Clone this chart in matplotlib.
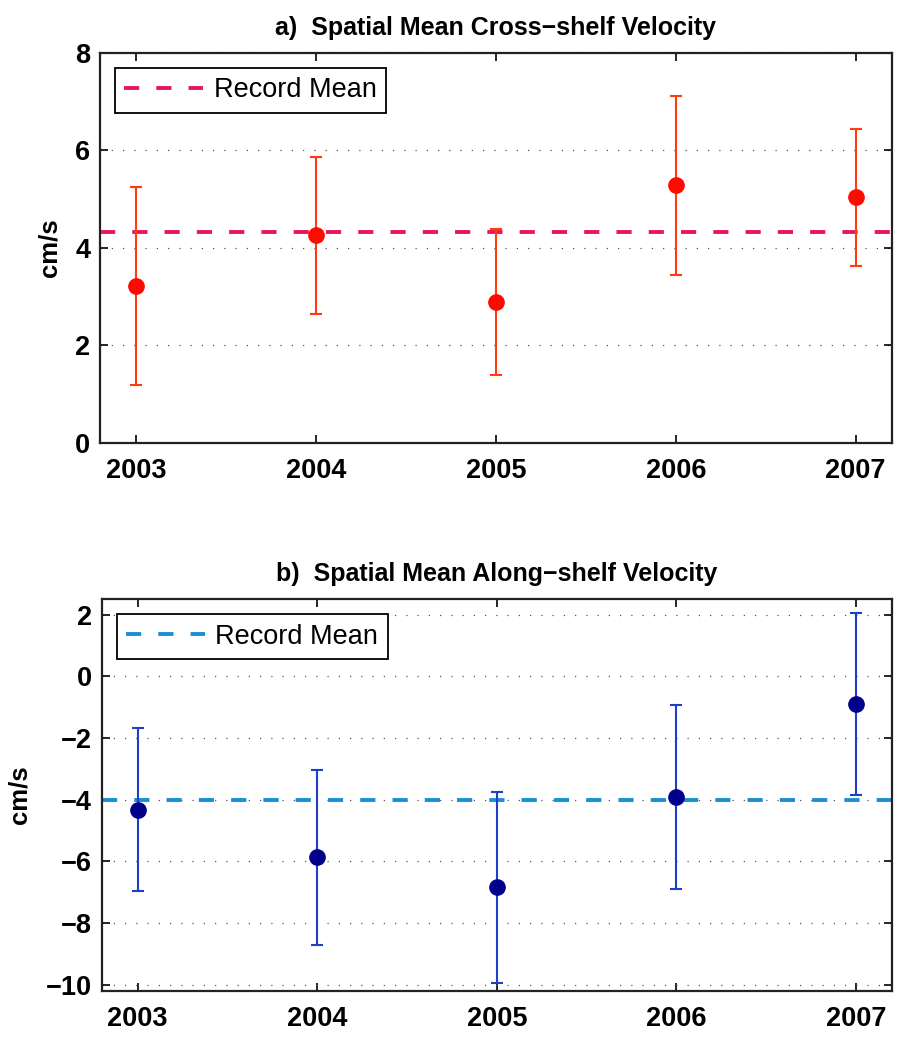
import matplotlib
matplotlib.use("Agg")
import matplotlib.pyplot as plt

plt.rcParams['font.family'] = ['Liberation Sans', 'DejaVu Sans']

years = [2003, 2004, 2005, 2006, 2007]

# a) cross-shelf
cross_mean = [3.21, 4.25, 2.89, 5.28, 5.03]
cross_err = [2.03, 1.60, 1.50, 1.84, 1.41]
cross_record = 4.32

# b) along-shelf
along_mean = [-4.32, -5.86, -6.84, -3.91, -0.88]
along_err = [2.65, 2.84, 3.10, 2.97, 2.95]
along_record = -4.0

fig = plt.figure(figsize=(8.97, 10.37), dpi=100)
ax1 = fig.add_axes([0.1115, 0.5731, 0.8826, 0.3761])
ax2 = fig.add_axes([0.1134, 0.0444, 0.8810, 0.3777])


def style_axes(ax, yticks, ylim, title):
    ax.set_xlim(2002.8, 2007.2)
    ax.set_ylim(*ylim)
    ax.set_xticks(years)
    ax.set_yticks(yticks)
    ax.set_yticklabels([str(t).replace('-', '\u2212') for t in yticks])
    ax.tick_params(direction='in', top=True, right=True, length=6, width=1.2,
                   labelsize=19.5)
    ax.tick_params(axis='x', pad=11)
    ax.tick_params(axis='y', pad=7)
    for lab in ax.get_xticklabels() + ax.get_yticklabels():
        lab.set_fontweight('bold')
    for s in ax.spines.values():
        s.set_linewidth(1.6)
        s.set_color('#222222')
    ax.yaxis.grid(True, linestyle=(0, (1, 8)), color='#555555', linewidth=0.9)
    ax.set_axisbelow(True)
    ax.set_ylabel('cm/s', fontsize=18.5, fontweight='bold', labelpad=10)
    ax.set_title(title, fontsize=18, fontweight='bold', pad=13)


def add_legend(ax):
    leg = ax.legend(loc='upper left', fontsize=19.5, fancybox=False,
                    framealpha=1, edgecolor='black', handlelength=2.9,
                    handletextpad=0.4, borderaxespad=0.55, borderpad=0.35)
    leg.get_frame().set_linewidth(1.3)


# top panel
ax1.plot([2002.8, 2007.2], [cross_record] * 2, color='#e8175d',
         linestyle=(0, (3.9, 4.4)), linewidth=2.8, label='Record Mean')
ax1.errorbar(years, cross_mean, yerr=cross_err, fmt='none', ecolor='#ff3b0f',
             elinewidth=1.5, capsize=4.5, capthick=1.5)
ax1.plot(years, cross_mean, 'o', color='#ff0a00', markersize=11, zorder=4)
style_axes(ax1, [0, 2, 4, 6, 8], (0, 8),
           'a)  Spatial Mean Cross\u2212shelf Velocity')
add_legend(ax1)

# bottom panel
ax2.plot([2002.8, 2007.2], [along_record] * 2, color='#1a8fd3',
         linestyle=(0, (3.9, 4.4)), linewidth=2.8, label='Record Mean')
ax2.errorbar(years, along_mean, yerr=along_err, fmt='none', ecolor='#1f3fc8',
             elinewidth=1.5, capsize=4.5, capthick=1.5)
ax2.plot(years, along_mean, 'o', color='#00008b', markersize=11, zorder=4)
style_axes(ax2, [-10, -8, -6, -4, -2, 0, 2], (-10.2, 2.5),
           'b)  Spatial Mean Along\u2212shelf Velocity')
add_legend(ax2)

fig.savefig('out.png', dpi=100)
